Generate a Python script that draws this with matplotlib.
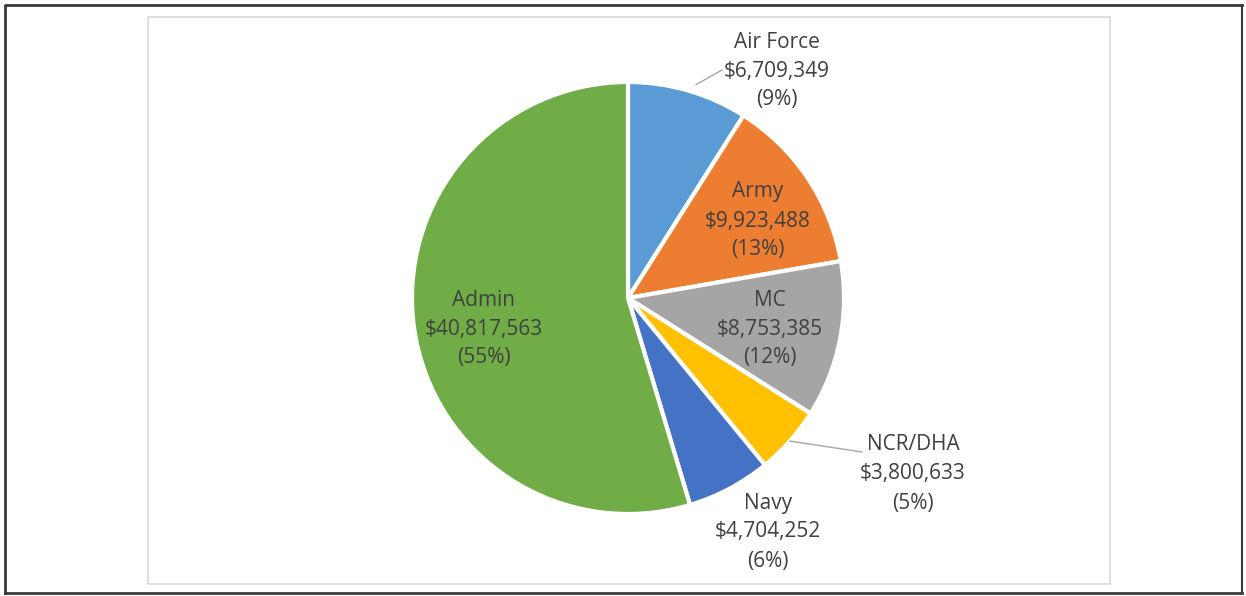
import numpy as np
import matplotlib.pyplot as plt
from matplotlib.patches import Rectangle

# Datos del gráfico
categorias = ['Air Force', 'Army', 'MC', 'NCR/DHA', 'Navy', 'Admin']
valores = [6709349, 9923488, 8753385, 3800633, 4704252, 40817563]
porcentajes = ['9%', '13%', '12%', '5%', '6%', '55%']
colores = ['#5b9bd5', '#ed7d31', '#a5a5a5', '#ffc000', '#4472c4', '#70ad47']

W, H = 1246, 596
texto = '#404040'

fig = plt.figure(figsize=(W / 100, H / 100), dpi=100)
ax = fig.add_axes([0, 0, 1, 1])
ax.set_xlim(0, W)
ax.set_ylim(0, H)
ax.axis('off')

# Marcos (borde exterior y área del gráfico)
ax.add_patch(Rectangle((148, H - 584), 962, 567, fill=False, ec='#d9d9d9', lw=1.2))
ax.plot([5, 5, W - 4], [H - 593, H - 5, H - 5], color='#3a3a3a', lw=2)
ax.plot([5, W - 4], [H - 593, H - 593], color='#3a3a3a', lw=2)
ax.plot([W - 4, W - 4], [H - 593, H - 5], color='#3a3a3a', lw=1.5)

# Pastel
cx, cy, r = 628, H - 298, 216
wedges, _ = ax.pie(valores, colors=colores, startangle=90, counterclock=False,
                   center=(cx, cy), radius=r, frame=True,
                   wedgeprops=dict(edgecolor='white', linewidth=3))
ax.set_xlim(0, W)
ax.set_ylim(0, H)
ax.set_aspect('equal')
ax.axis('off')

# Posición de las etiquetas (coordenadas de imagen)
pos_etiquetas = [(777, 42), (758, 192), (770, 300), (913, 445), (768, 503), (484, 300)]
for cat, val, pct, (x, y) in zip(categorias, valores, porcentajes, pos_etiquetas):
    lineas = [cat, f'${val:,}', f'({pct})']
    for i, linea in enumerate(lineas):
        ax.text(x, H - (y + 29 * i), linea, ha='center', va='center',
                fontsize=15, family='Open Sans', color=texto)

# Líneas guía
def punto_borde(idx):
    total = sum(valores)
    acum = sum(valores[:idx]) + valores[idx] / 2
    ang = np.deg2rad(360 * acum / total)
    return cx + r * np.sin(ang), cy + r * np.cos(ang)

x0, y0 = punto_borde(0)
ax.plot([x0 + 8, 722], [y0 + 6, H - 70], color='#a6a6a6', lw=1)
x0, y0 = punto_borde(3)
ax.plot([x0, 862], [y0, H - 452], color='#a6a6a6', lw=1)

plt.savefig('out.png', dpi=100)
